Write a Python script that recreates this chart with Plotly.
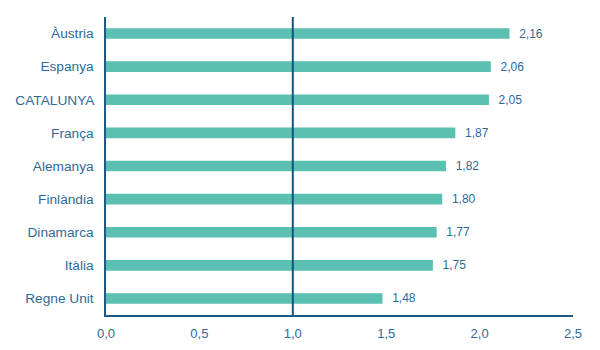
import plotly.graph_objects as go

categories = ["Àustria", "Espanya", "CATALUNYA", "França", "Alemanya", "Finlàndia", "Dinamarca", "Itàlia", "Regne Unit"]
values = [2.16, 2.06, 2.05, 1.87, 1.82, 1.80, 1.77, 1.75, 1.48]
tick_vals = [0, 0.5, 1.0, 1.5, 2.0, 2.5]
tick_text = ["0,0", "0,5", "1,0", "1,5", "2,0", "2,5"]
labels = ["  " + f"{v:.2f}".replace(".", ",") for v in values]

text_color = "#2E6A99"
axis_color = "#1D5A85"
bar_color = "#5BBFB1"

fig = go.Figure(go.Bar(
    y=categories, x=values, orientation="h",
    marker=dict(color=bar_color, line=dict(width=0)),
    width=0.32,
    text=labels, textposition="outside", cliponaxis=False, constraintext="none",
    textfont=dict(color=text_color, size=12, family="Liberation Sans"),
))

fig.add_shape(type="line", x0=1.0, x1=1.0, y0=0, y1=1, xref="x", yref="paper",
              line=dict(color="#0E5585", width=2))

fig.update_layout(
    width=600, height=350,
    margin=dict(l=106, r=27, t=17, b=35),
    plot_bgcolor="white", paper_bgcolor="white",
    showlegend=False,
    font=dict(family="Liberation Sans", size=12, color=text_color),
    xaxis=dict(range=[0, 2.5], tickvals=tick_vals, ticktext=tick_text,
               showgrid=False, zeroline=False, showline=True, linecolor=axis_color,
               linewidth=1.5, ticks="", ticklabelstandoff=6, automargin=False,
               tickfont=dict(size=13, color=text_color)),
    yaxis=dict(autorange="reversed", showgrid=False, zeroline=False,
               showline=True, linecolor=axis_color, linewidth=2, ticks="",
               automargin=False,
               ticksuffix="  ", tickfont=dict(size=13.7, color=text_color)),
)

fig.write_html("out.html")
